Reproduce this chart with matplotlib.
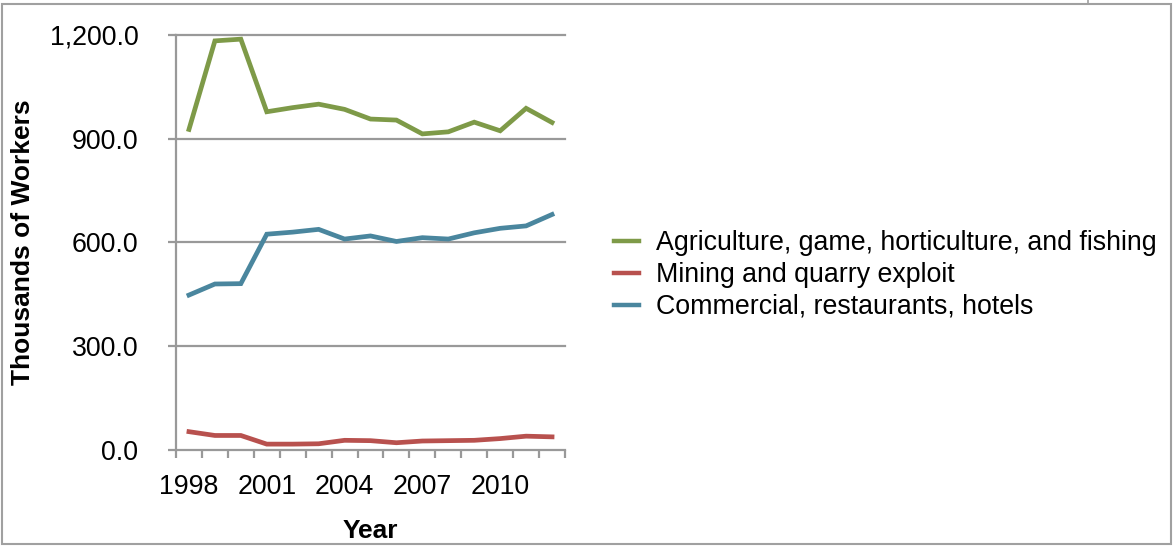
import matplotlib
matplotlib.use("Agg")
import matplotlib.pyplot as plt
from matplotlib.lines import Line2D
from matplotlib.patches import Rectangle
import numpy as np

years = [1998, 1999, 2000, 2001, 2002, 2003, 2004, 2005, 2006, 2007, 2008, 2009, 2010, 2011, 2012]
agriculture = [927, 1183, 1188, 978, 990, 1000, 985, 957, 954, 914, 920, 948, 923, 988, 947]
mining = [53, 42, 42, 17, 17, 18, 28, 27, 21, 26, 27, 28, 33, 40, 38]
commercial = [448, 480, 481, 624, 630, 638, 610, 619, 603, 614, 610, 628, 641, 648, 681]
series_names = ["Agriculture, game, horticulture, and fishing",
                "Mining and quarry exploit",
                "Commercial, restaurants, hotels"]
series_colors = ["#7e9a48", "#b8514e", "#4a869e"]
y_ticks = [0, 300, 600, 900, 1200]
x_label_years = [1998, 2001, 2004, 2007, 2010]

plt.rcParams['font.family'] = ['Liberation Sans', 'DejaVu Sans']

W, H = 1174, 547
FS = 19.3
fig = plt.figure(figsize=(W / 100, H / 100), dpi=100)
ax = fig.add_axes([176 / W, 1 - 450 / H, (565 - 176) / W, (450 - 35) / H])

x = np.arange(len(years))
for vals, name, col in zip([agriculture, mining, commercial], series_names, series_colors):
    ax.plot(x, vals, color=col, lw=3.4, solid_joinstyle='miter', label=name, zorder=3)

grid_col = "#999999"
ax.set_xlim(-0.5, len(years) - 0.5)
ax.set_ylim(0, 1200)
ax.set_yticks(y_ticks)
ax.set_yticklabels([f"{v:,.1f}" for v in y_ticks])
for v in y_ticks:
    ax.axhline(v, color=grid_col, lw=1.6, zorder=1, clip_on=False)

ax.set_xticks([years.index(y) for y in x_label_years])
ax.set_xticklabels([str(y) for y in x_label_years])
ax.tick_params(axis='x', length=0, pad=17, labelsize=FS, colors='black')
ax.set_xticks(np.arange(-0.5, len(years)), minor=True)
ax.tick_params(axis='x', which='minor', length=6, width=1.6, color=grid_col, direction='out')
ax.tick_params(axis='y', length=6, width=1.6, color=grid_col, direction='out', pad=21, labelsize=FS)

for s in ['top', 'right', 'bottom']:
    ax.spines[s].set_visible(False)
ax.spines['left'].set_color(grid_col)
ax.spines['left'].set_linewidth(1.6)

ax.set_xlabel("Year", fontsize=19, fontweight='bold', va='center')
ax.xaxis.set_label_coords(0.5, (450 - 531) / 415)
ax.set_ylabel("Thousands of Workers", fontsize=19, fontweight='bold', va='center')
ax.yaxis.set_label_coords((23 - 176) / 389, 0.5)

leg = fig.legend(loc='center left', bbox_to_anchor=(614 / W, 1 - 275 / H), frameon=False,
                 fontsize=FS, handlelength=0.95, handletextpad=0.62, labelspacing=0.22,
                 borderpad=0, borderaxespad=0)
for line in leg.get_lines():
    line.set_linewidth(3.2)

# outer frame
fig.patches.append(Rectangle((2 / W, 1 - 544 / H), (1171 - 2) / W, (544 - 4) / H,
                             transform=fig.transFigure, fill=False, edgecolor="#a0a0a0", lw=1.5))
fig.lines.append(Line2D([1088 / W, 1088 / W], [1, 1 - 4 / H], transform=fig.transFigure,
                        color="#a0a0a0", lw=1.2))

fig.savefig("out.png", dpi=100)
